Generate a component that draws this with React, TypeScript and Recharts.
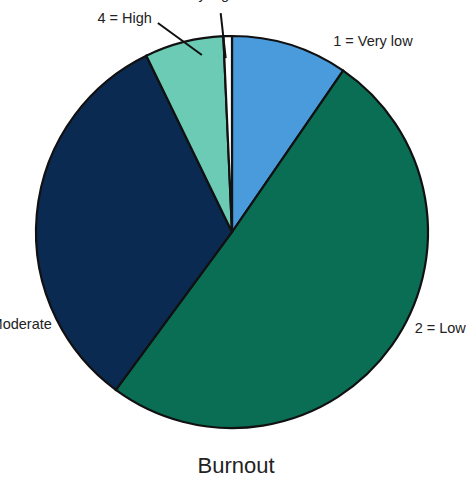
import React from 'react';
import { PieChart, Pie, Cell } from 'recharts';

const categories = ['1 = Very low', '2 = Low', '3 = Moderate', '4 = High', '5 = Very high'];
const shares = [9.6, 50.5, 32.7, 6.5, 0.7];
const colors = ['#4A9BDC', '#0A6E55', '#0B2A52', '#6CCBB5', '#FFFFFF'];

const data = categories.map((name, i) => ({ name, value: shares[i] }));

// label placement relative to the slice's outer point at its mid angle
const labelStyle = [
  { dx: 43, dy: 1, anchor: 'start' },
  { dx: 23, dy: -13, anchor: 'start' },
  { dx: 15, dy: 115, anchor: 'end' },
  { dx: -32, dy: -19, anchor: 'end', line: [18, 13, -26, -19] },
  { dx: -33, dy: -37, anchor: 'middle', line: [-2, 22, -7, -23] },
];

const RADIAN = Math.PI / 180;

const renderLabel = (props: any) => {
  const { cx, cy, midAngle, outerRadius, index, name } = props;
  const px = cx + outerRadius * Math.cos(-midAngle * RADIAN);
  const py = cy + outerRadius * Math.sin(-midAngle * RADIAN);
  const s = labelStyle[index];
  return (
    <g key={`lbl-${index}`}>
      {s.line && (
        <line
          x1={px + s.line[0]}
          y1={py + s.line[1]}
          x2={px + s.line[2]}
          y2={py + s.line[3]}
          stroke="#111"
          strokeWidth={2}
        />
      )}
      <text
        x={px + s.dx}
        y={py + s.dy}
        textAnchor={s.anchor}
        fill="#222"
        fontSize={14.5}
        fontFamily="Liberation Sans, Arial, sans-serif"
      >
        {name}
      </text>
    </g>
  );
};

export default function App() {
  return (
    <div style={{ width: 469, height: 480, background: '#fff', position: 'absolute', left: 0, top: 0 }}>
      <style>{`body{margin:0}`}</style>
      <PieChart width={469} height={480} margin={{ top: 0, right: 0, bottom: 0, left: 0 }}>
        <Pie
          data={data}
          dataKey="value"
          cx={232}
          cy={232}
          outerRadius={196}
          startAngle={90}
          endAngle={-270}
          stroke="#111"
          strokeWidth={2.2}
          label={renderLabel}
          labelLine={false}
          isAnimationActive={false}
        >
          {data.map((d, i) => (
            <Cell key={d.name} fill={colors[i]} />
          ))}
        </Pie>
        <text
          x={236}
          y={473}
          textAnchor="middle"
          fontSize={22}
          fill="#222"
          fontFamily="Liberation Sans, Arial, sans-serif"
        >
          Burnout
        </text>
      </PieChart>
    </div>
  );
}
